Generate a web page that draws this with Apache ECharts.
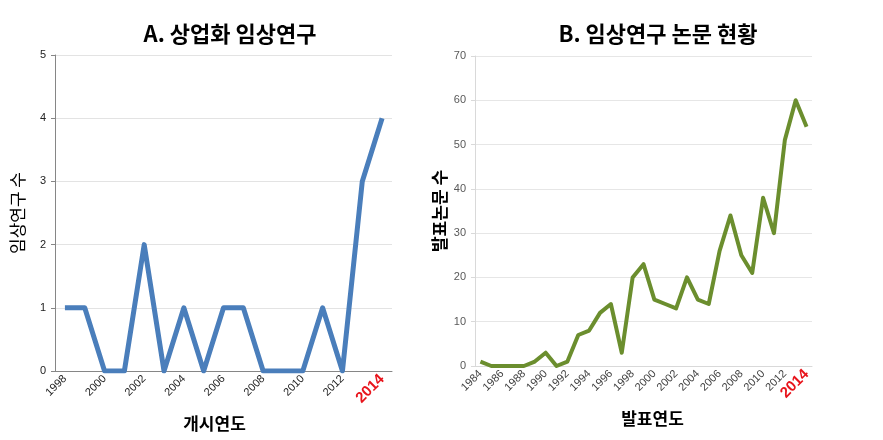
<!DOCTYPE html>
<html><head><meta charset="utf-8">
<script src="https://cdn.jsdelivr.net/npm/echarts@6/dist/echarts.min.js"></script>
<style>html,body{margin:0;padding:0;background:#fff}#c{width:883px;height:440px}</style>
</head><body><div id="c"></div>
<script>
const yearsA = ['1998','1999','2000','2001','2002','2003','2004','2005','2006','2007','2008','2009','2010','2011','2012','2013','2014'];
const trialsA = [1,1,0,0,2,0,1,0,1,1,0,0,0,1,0,3,4];
const yearsB = ['1984','1985','1986','1987','1988','1989','1990','1991','1992','1993','1994','1995','1996','1997','1998','1999','2000','2001','2002','2003','2004','2005','2006','2007','2008','2009','2010','2011','2012','2013','2014'];
const papersB = [1,0,0,0,0,1,3,0,1,7,8,12,14,3,20,23,15,14,13,20,15,14,26,34,25,21,38,30,51,60,54];
const titleA = 'A. 상업화 임상연구';
const titleB = 'B. 임상연구 논문 현황';

const font = '"Noto Sans CJK KR", "Noto Sans", sans-serif';
const chart = echarts.init(document.getElementById('c'), null, {renderer:'canvas'});
function xLabel(color){
  return {
    rotate: 45, interval: 1, fontSize: 11, color: color, fontFamily: '"Liberation Sans", Arial, sans-serif', margin: 6,
    formatter: v => v === '2014' ? '{r|2014}' : v,
    rich: { r: { color: '#e8141c', fontSize: 15, fontWeight: 'bold', fontFamily: '"Liberation Sans", Arial, sans-serif' } }
  };
}
chart.setOption({
  animation: false,
  backgroundColor: '#fff',
  title: [
    {text: titleA, left: 225, top: 18, textAlign: 'center', textStyle: {fontFamily: font, fontSize: 22, fontWeight: 'bold', color: '#000'}},
    {text: titleB, left: 653, top: 18, textAlign: 'center', textStyle: {fontFamily: font, fontSize: 22, fontWeight: 'bold', color: '#000'}}
  ],
  grid: [
    {left: 55, right: 491, top: 55, bottom: 69},
    {left: 475, right: 71, top: 56, bottom: 74}
  ],
  xAxis: [
    {type: 'category', gridIndex: 0, data: yearsA, boundaryGap: true,
     name: '개시연도', nameLocation: 'middle', nameGap: 44,
     nameTextStyle: {fontFamily: font, fontSize: 17, color: '#000', fontWeight: 'bold', padding: [0, 18, 0, 0]},
     axisLine: {lineStyle: {color: '#868686', width: 1}},
     axisTick: {interval: 0, length: 4, lineStyle: {color: '#868686'}},
     axisLabel: xLabel('#222')},
    {type: 'category', gridIndex: 1, data: yearsB, boundaryGap: true,
     name: '발표연도', nameLocation: 'middle', nameGap: 44,
     nameTextStyle: {fontFamily: font, fontSize: 17, color: '#000', fontWeight: 'bold', padding: [0, 0, 0, 18]},
     axisLine: {lineStyle: {color: '#d9d9d9', width: 1}},
     axisTick: {interval: 0, length: 4, lineStyle: {color: '#bfbfbf'}},
     axisLabel: xLabel('#404040')}
  ],
  yAxis: [
    {type: 'value', gridIndex: 0, min: 0, max: 5, interval: 1,
     name: '임상연구 수', nameLocation: 'middle', nameGap: 29,
     nameTextStyle: {fontFamily: font, fontSize: 17, color: '#000'},
     axisLine: {show: true, lineStyle: {color: '#868686'}},
     axisTick: {show: true, length: 4, lineStyle: {color: '#868686'}},
     axisLabel: {fontSize: 11, color: '#222', fontFamily: '"Liberation Sans", Arial, sans-serif', margin: 9},
     splitLine: {lineStyle: {color: '#e3e3e3'}}},
    {type: 'value', gridIndex: 1, min: 0, max: 70, interval: 10,
     name: '발표논문 수', nameLocation: 'middle', nameGap: 27,
     nameTextStyle: {fontFamily: font, fontSize: 17, color: '#000', fontWeight: 'bold'},
     axisLine: {show: true, lineStyle: {color: '#d9d9d9'}},
     axisTick: {show: true, length: 4, lineStyle: {color: '#d9d9d9'}},
     axisLabel: {fontSize: 11, color: '#595959', fontFamily: '"Liberation Sans", Arial, sans-serif', margin: 9},
     splitLine: {lineStyle: {color: '#e6e6e6'}}}
  ],
  series: [
    {type: 'line', xAxisIndex: 0, yAxisIndex: 0, data: trialsA, showSymbol: false,
     lineStyle: {color: '#4a7ebb', width: 5, join: 'round'}},
    {type: 'line', xAxisIndex: 1, yAxisIndex: 1, data: papersB, showSymbol: false,
     lineStyle: {color: '#6b8e2e', width: 4, join: 'round'}}
  ]
});
</script></body></html>
